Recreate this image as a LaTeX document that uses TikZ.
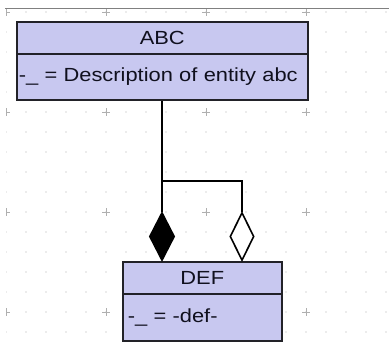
\documentclass[tikz,border=0pt]{standalone}
\usepackage{fontspec}
\newfontfamily\umlfont[FakeStretch=1.15]{Liberation Sans}
\usetikzlibrary{shapes.geometric}

\definecolor{classfill}{RGB}{200,200,240}
\definecolor{classline}{RGB}{34,34,40}
\definecolor{classtext}{RGB}{16,16,30}
\definecolor{gridcol}{RGB}{175,175,175}
\definecolor{rulecol}{RGB}{128,128,128}

\tikzset{
  classpart/.style={draw=classline, fill=classfill, line width=1.6pt,
    inner sep=0pt, anchor=north west, text=classtext,
    font=\umlfont\fontsize{19}{21}\selectfont},
  classbody/.style={classpart, align=left},
  link/.style={draw=black, line width=1.6pt},
  composition/.style={diamond, draw=black, fill=black, line width=1.6pt,
    inner sep=0pt, minimum width=25pt, minimum height=48pt},
  aggregation/.style={composition, fill=white},
}

\begin{document}
\begin{tikzpicture}[x=1pt, y=-1pt]
  \useasboundingbox (0,0) rectangle (389,351);
  \fill[white] (0,0) rectangle (389,351);

  % canvas grid: dots every 20 units, crosses every 100 units
  \begin{scope}
    \clip (6,9) rectangle (389,351);
    \foreach \i in {0,...,19}
      \foreach \j in {0,...,17}
        \fill[gridcol] (6+20*\i, 12+20*\j) circle (0.7);
    \foreach \i in {0,...,3}
      \foreach \j in {0,...,3}
        \draw[gridcol, line width=0.9pt]
          (6+100*\i-4, 12+100*\j) -- (6+100*\i+4, 12+100*\j)
          (6+100*\i, 12+100*\j-4) -- (6+100*\i, 12+100*\j+4);
  \end{scope}
  \draw[rulecol, line width=1.4pt] (5,8.5) -- (389,8.5);

  % class ABC
  \node[classpart, minimum width=291pt, minimum height=32pt] (abcHead) at (16,21) {ABC};
  \node[classbody, text width=287pt, inner xsep=2pt, minimum height=46pt] (abcBody)
    at (16,53) {-\_ = Description of entity abc};

  % class DEF
  \node[classpart, minimum width=159pt, minimum height=32pt] (defHead) at (122,261) {DEF};
  \node[classbody, text width=149pt, inner xsep=5pt, minimum height=47pt] (defBody)
    at (122,293) {-\_ = -def-};

  % association ends
  \node[composition] (comp) at (162,236.5) {};
  \node[aggregation, minimum width=24pt] (aggr) at (242,236.5) {};

  % connectors
  \coordinate (fork) at (162,181);
  \draw[link] (abcBody.south -| comp.north) -- (comp.north);
  \draw[link] (fork) -| (aggr.north);
\end{tikzpicture}
\end{document}
